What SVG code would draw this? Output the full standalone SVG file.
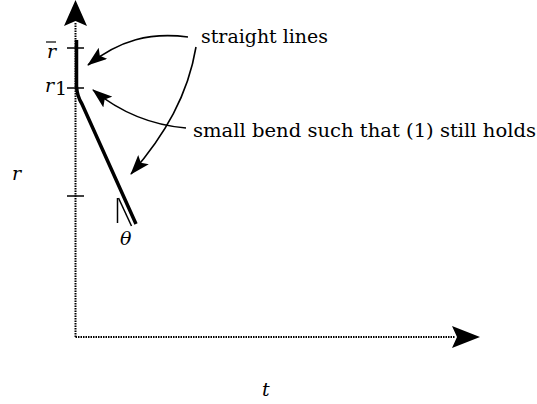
<svg xmlns="http://www.w3.org/2000/svg" width="537" height="404" viewBox="0 0 537 404">
<style>
text{font-family:'DejaVu Serif','Liberation Serif',serif;font-size:19px;fill:#000}
.it{font-style:italic}
.axis{stroke:#000;stroke-width:2;stroke-dasharray:1.5 1;fill:none}
.tick{stroke:#000;stroke-width:1.5}
.pointer{stroke:#000;stroke-width:1.6;fill:none}
</style>
<defs>
<marker id="ah" viewBox="0 0 20 14" refX="19" refY="7" markerWidth="20" markerHeight="14" markerUnits="userSpaceOnUse" orient="auto">
<path d="M0,0 L20,7 L0,14 L4,7 Z" fill="#000"/>
</marker>
</defs>
<g id="axes">
<line class="axis" x1="75.5" y1="337" x2="75.5" y2="22"/>
<line class="axis" x1="75.5" y1="337" x2="455" y2="337"/>
<path d="M75.5,0 L87,26 L75.5,21 L64,26 Z" fill="#000"/>
<path d="M480,337 L452,348 L457,337 L452,326 Z" fill="#000"/>
</g>
<g id="curve">
<path d="M76.5,40 L76.5,86 Q77,96 82,104 L136,224" stroke="#000" stroke-width="3.5" fill="none"/>
</g>
<g id="ticks">
<line class="tick" x1="67" y1="48" x2="84" y2="48"/>
<line class="tick" x1="67" y1="88" x2="84" y2="88"/>
<line class="tick" x1="67" y1="196" x2="84" y2="196"/>
</g>
<g id="theta">
<line x1="117.5" y1="198" x2="117.5" y2="223" stroke="#000" stroke-width="1.5"/>
<line x1="118.5" y1="198" x2="131.5" y2="226" stroke="#000" stroke-width="1.5"/>
<text class="it" x="120" y="245">θ</text>
</g>
<g id="labels">
<text class="it" x="47" y="58">r</text>
<line x1="46" y1="42" x2="56" y2="42" stroke="#000" stroke-width="1.2"/>
<text class="it" x="45" y="92">r</text>
<text x="55" y="95" font-size="13">1</text>
<text class="it" x="12" y="180">r</text>
<text class="it" x="262" y="396">t</text>
</g>
<g id="note-straight">
<text x="201" y="43" textLength="127" lengthAdjust="spacingAndGlyphs">straight lines</text>
</g>
<g id="note-bend">
<text x="193" y="137" textLength="343" lengthAdjust="spacingAndGlyphs">small bend such that (1) still holds</text>
</g>
<g id="connectors">
<path class="pointer" d="M188,37 C150,32 120,40 88,65" marker-end="url(#ah)"/>
<path class="pointer" d="M196,47 C188,95 165,135 131,174" marker-end="url(#ah)"/>
<path class="pointer" d="M186,128 C150,125 120,112 93,90" marker-end="url(#ah)"/>
</g>
</svg>
